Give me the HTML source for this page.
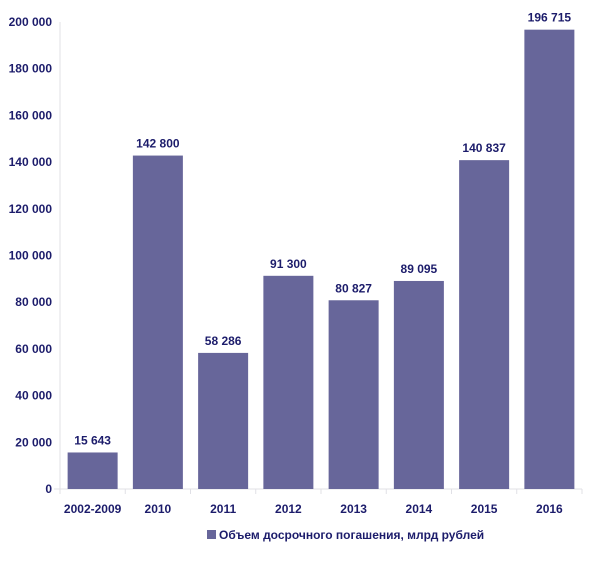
<!DOCTYPE html>
<html><head><meta charset="utf-8"><style>
body{margin:0;background:#fff;}
svg text{font-family:"Liberation Sans",sans-serif;font-weight:bold;fill:#1c1c6b;}
</style></head><body>
<svg width="600" height="574" viewBox="0 0 600 574">
<g id="axes"></g><g id="bars"></g>
<g>
<rect x="207" y="530" width="9" height="9" fill="#67669a"/>
<text x="219" y="539" font-size="12">Объем досрочного погашения, млрд рублей</text>
</g>
</svg>
<script>
const categories=["2002-2009","2010","2011","2012","2013","2014","2015","2016"];
const values=[15643,142800,58286,91300,80827,89095,140837,196715];
const valueLabels=["15 643","142 800","58 286","91 300","80 827","89 095","140 837","196 715"];
const yTicks=[0,20000,40000,60000,80000,100000,120000,140000,160000,180000,200000];
const yTickLabels=["0","20 000","40 000","60 000","80 000","100 000","120 000","140 000","160 000","180 000","200 000"];
const NS="http://www.w3.org/2000/svg";
const L=60,R=582,T=22,B=489,maxV=200000;
const y=v=>B-(v/maxV)*(B-T);
const bw=(R-L)/categories.length;
const x=i=>L+i*bw;
function mk(tag,attrs,parent){const e=document.createElementNS(NS,tag);for(const k in attrs)e.setAttribute(k,attrs[k]);parent.appendChild(e);return e;}
const ax=document.getElementById('axes'),bg=document.getElementById('bars');
const yl=mk('line',{x1:L,x2:L,y1:T,y2:B,stroke:'#e0e0e6'},ax);


const xl=mk('line',{x1:L-6,x2:R,y1:B,y2:B,stroke:'#e0e0e6'},ax);


yTicks.forEach((t,i)=>{
 const tx=mk('text',{x:52,y:y(t)+4,'font-size':12,'text-anchor':'end'},ax);
 tx.textContent=yTickLabels[i];
 
 
});
for(let i=0;i<=categories.length;i++){
 const tk=mk('line',{x1:x(i),x2:x(i),y1:B,y2:B+5,stroke:'#e0e0e6'},ax);
 
 
}
categories.forEach((c,i)=>{
 const cx=x(i)+bw/2;
 const r=mk('rect',{x:cx-25,y:y(values[i]),width:50,height:B-y(values[i]),fill:'#67669a'},bg);
 
 
 const vl=mk('text',{x:cx,y:y(values[i])-8,'font-size':12,'text-anchor':'middle'},bg);
 vl.textContent=valueLabels[i];
 
 
 const cl=mk('text',{x:cx,y:513,'font-size':12,'text-anchor':'middle'},bg);
 cl.textContent=c;
 
 
});
</script>
</body></html>
